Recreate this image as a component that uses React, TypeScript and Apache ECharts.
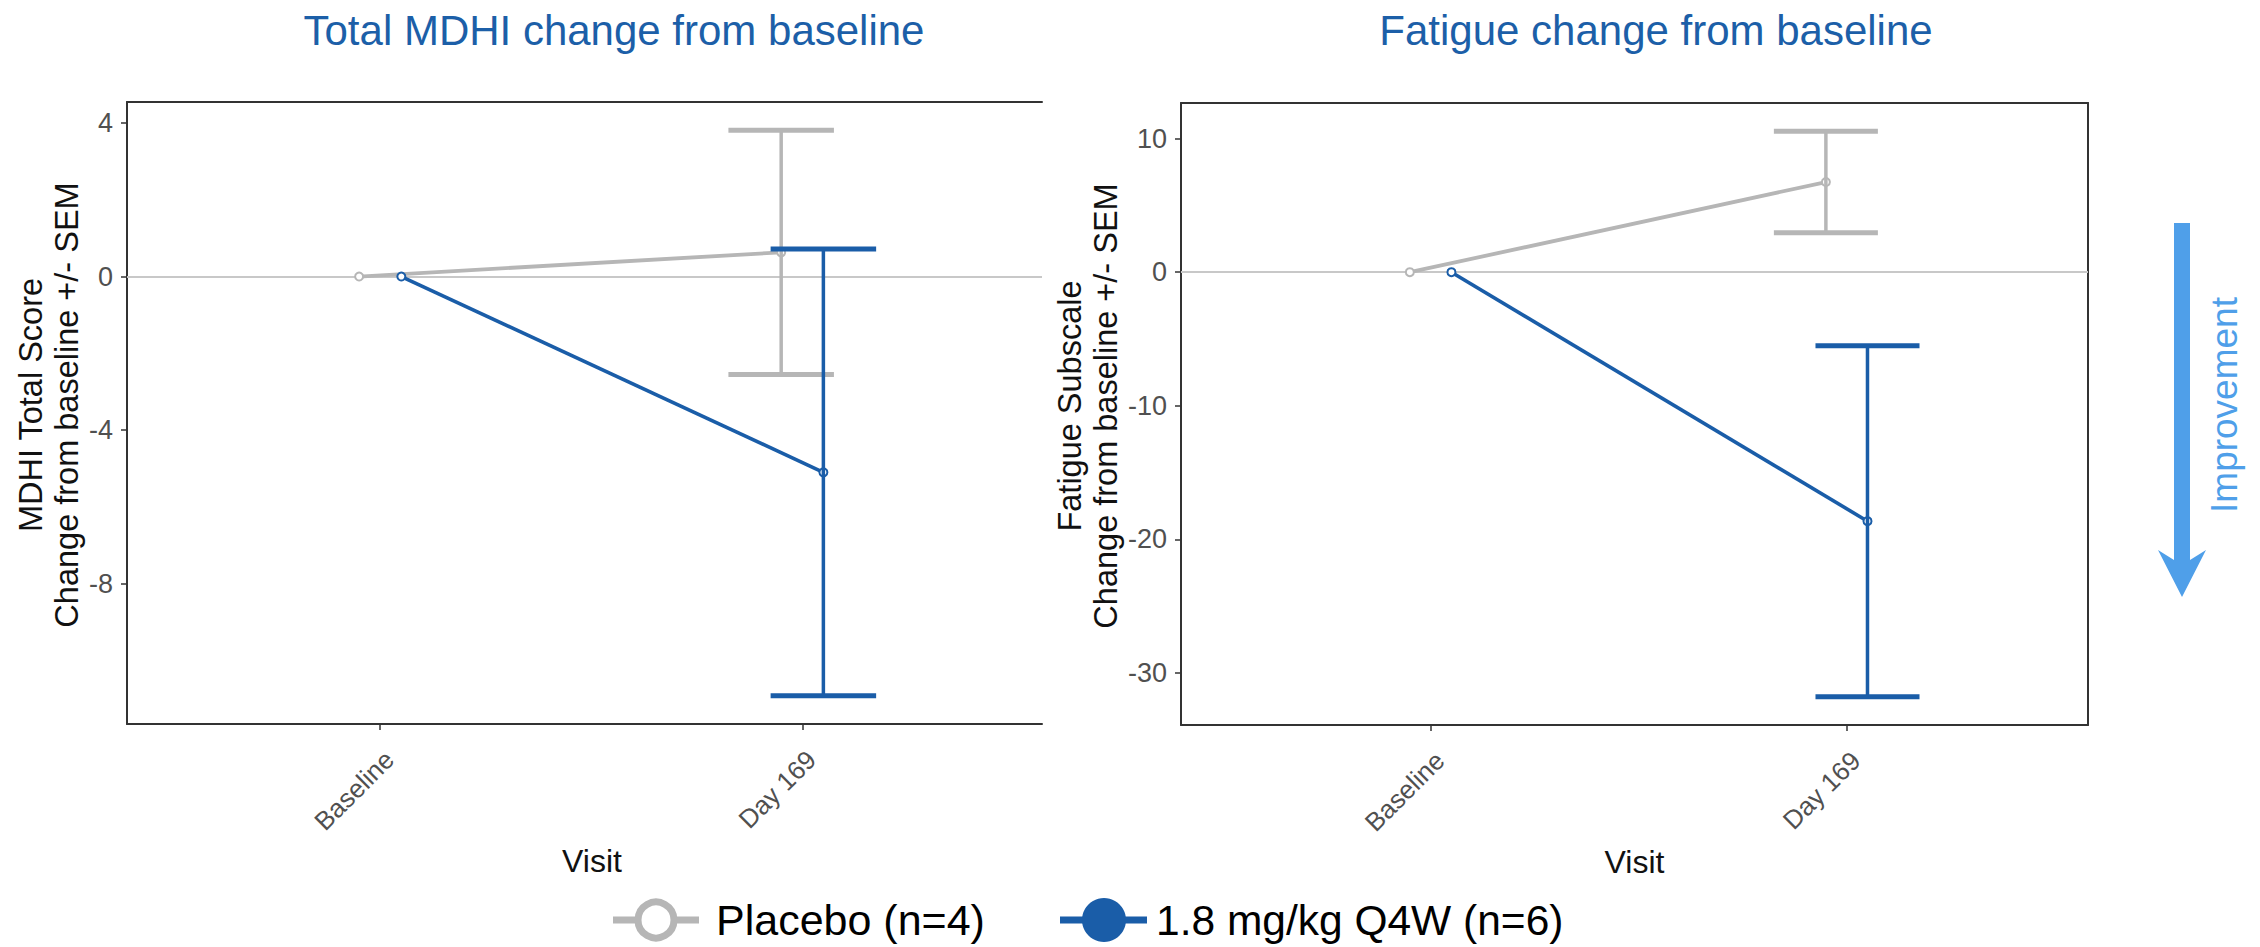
import React, { useEffect, useRef } from 'react';
import * as echarts from 'echarts';

// ---------- data ----------
const visits = ['Baseline', 'Day 169'];
const groupNames = ['Placebo (n=4)', '1.8 mg/kg Q4W (n=6)'];

// Total MDHI change from baseline
const mdhiPlaceboMean = [0, 0.63];
const mdhiPlaceboSem: (number | null)[] = [null, 3.18];
const mdhiActiveMean = [0, -5.1];
const mdhiActiveSem: (number | null)[] = [null, 5.82];
const mdhiTicks = [-8, -4, 0, 4];

// Fatigue change from baseline
const fatPlaceboMean = [0, 6.75];
const fatPlaceboSem: (number | null)[] = [null, 3.8];
const fatActiveMean = [0, -18.64];
const fatActiveSem: (number | null)[] = [null, 13.14];
const fatTicks = [-30, -20, -10, 0, 10];

const panelTitles = ['Total MDHI change from baseline', 'Fatigue change from baseline'];
const yTitles = [
  'MDHI Total Score\nChange from baseline +/- SEM',
  'Fatigue Subscale\nChange from baseline +/- SEM',
];

// ---------- style ----------
const FONT = '"Liberation Sans", Arial, Helvetica, sans-serif';
const GRAY = '#b6b6b6';
const BLUE = '#1a5da8';
const TITLE_BLUE = '#1c5fa8';
const ARROW_BLUE = '#4f9fe9';
const AXIS = '#333333';
const TICK_TEXT = '#505050';
const DODGE = 0.05;
const CAP = 0.125;

function points(means: number[], off: number) {
  return means.map((m, i) => [i + 1 + off, m]);
}
function errs(means: number[], sems: (number | null)[], off: number) {
  const out: number[][] = [];
  means.forEach((m, i) => {
    const s = sems[i];
    if (s != null) out.push([i + 1 + off, m - s, m + s]);
  });
  return out;
}
function expandRange(means: number[][], sems: (number | null)[][]) {
  const vals: number[] = [];
  means.forEach((arr, k) =>
    arr.forEach((m, i) => {
      const s = sems[k][i];
      vals.push(m);
      if (s != null) {
        vals.push(m - s, m + s);
      }
    })
  );
  const lo = Math.min(...vals);
  const hi = Math.max(...vals);
  const r = hi - lo;
  return [lo - 0.05 * r, hi + 0.05 * r];
}

const errRender = (color: string) => (params: any, api: any) => {
  const x = api.value(0);
  const lo = api.value(1);
  const hi = api.value(2);
  const pLo = api.coord([x, lo]);
  const pHi = api.coord([x, hi]);
  const l = api.coord([x - CAP, lo])[0];
  const r = api.coord([x + CAP, lo])[0];
  return {
    type: 'group',
    children: [
      { type: 'line', shape: { x1: pLo[0], y1: pLo[1], x2: pHi[0], y2: pHi[1] }, style: { stroke: color, lineWidth: 3.5 } },
      { type: 'line', shape: { x1: l, y1: pHi[1], x2: r, y2: pHi[1] }, style: { stroke: color, lineWidth: 5 } },
      { type: 'line', shape: { x1: l, y1: pLo[1], x2: r, y2: pLo[1] }, style: { stroke: color, lineWidth: 5 } },
    ],
  };
};

export default function App() {
  const ref = useRef<HTMLDivElement>(null);
  useEffect(() => {
    document.body.style.margin = '0';
    if (!ref.current) return;
    const chart = echarts.init(ref.current, undefined, { renderer: 'svg' });

    const mdhiRange = expandRange([mdhiPlaceboMean, mdhiActiveMean], [mdhiPlaceboSem, mdhiActiveSem]);
    const fatRange = expandRange([fatPlaceboMean, fatActiveMean], [fatPlaceboSem, fatActiveSem]);

    const xBottom = (gridIndex: number, max: number) => ({
      type: 'value',
      gridIndex,
      position: 'bottom',
      min: 0.4,
      max,
      splitLine: { show: false },
      axisLine: { show: true, onZero: false, lineStyle: { color: AXIS, width: 2 } },
      axisTick: { show: true, customValues: [1, 2], length: 6, lineStyle: { color: AXIS, width: 1.5 } },
      axisLabel: {
        show: true,
        customValues: [1, 2],
        formatter: (v: number) => visits[Math.round(v) - 1],
        rotate: 45,
        align: 'right',
        verticalAlign: 'top',
        margin: 22,
        fontSize: 26,
        color: TICK_TEXT,
        fontFamily: FONT,
      },
      name: 'Visit',
      nameLocation: 'middle',
      nameGap: 121,
      nameTextStyle: { fontSize: 32, color: '#111', fontFamily: FONT, padding: gridIndex === 0 ? [0, 0, 0, 15] : 0 },
    });
    const xTop = (gridIndex: number, max: number) => ({
      type: 'value',
      gridIndex,
      position: 'top',
      min: 0.4,
      max,
      splitLine: { show: false },
      axisLine: { show: true, onZero: false, lineStyle: { color: AXIS, width: 2 } },
      axisTick: { show: false },
      axisLabel: { show: false },
    });
    const yLeft = (gridIndex: number, range: number[], ticks: number[], title: string, gap: number) => ({
      type: 'value',
      gridIndex,
      position: 'left',
      min: range[0],
      max: range[1],
      splitLine: { show: false },
      axisLine: { show: true, onZero: false, lineStyle: { color: AXIS, width: 2 } },
      axisTick: { show: true, customValues: ticks, length: 6, lineStyle: { color: AXIS, width: 1.5 } },
      axisLabel: { show: true, customValues: ticks, margin: 14, fontSize: 27, color: TICK_TEXT, fontFamily: FONT },
      name: title,
      nameLocation: 'middle',
      nameRotate: 90,
      nameGap: gap,
      nameTextStyle: { fontSize: 32.5, lineHeight: 36, color: '#111', fontFamily: FONT, align: 'center', padding: [0, 0, 0, 16] },
    });

    const lineSeries = (name: string, data: number[][], color: string, width: number, xi: number, yi: number, withZero: boolean) => ({
      type: 'line',
      name,
      xAxisIndex: xi,
      yAxisIndex: yi,
      data,
      z: 3,
      symbol: 'emptyCircle',
      symbolSize: 8,
      lineStyle: { color, width },
      itemStyle: { color, borderColor: color, borderWidth: 1.5 },
      markLine: withZero
        ? {
            silent: true,
            symbol: 'none',
            label: { show: false },
            lineStyle: { color: '#c8c8c8', width: 2, type: 'solid' },
            data: [{ yAxis: 0 }],
            z: 1,
          }
        : undefined,
    });
    const errSeries = (name: string, data: number[][], color: string, xi: number, yi: number, z: number) => ({
      type: 'custom',
      name,
      xAxisIndex: xi,
      yAxisIndex: yi,
      data,
      z,
      encode: { x: 0, y: [1, 2] },
      renderItem: errRender(color),
    });

    const lx = 127, rx = 1181, gy = 102, gh = 622;
    const legendY = 920;

    const option: any = {
      animation: false,
      backgroundColor: '#ffffff',
      textStyle: { fontFamily: FONT },
      grid: [
        { left: lx, top: gy, width: 915, height: gh },
        { left: rx, top: gy + 1, width: 907, height: gh },
      ],
      xAxis: [xBottom(0, 2.568), xTop(0, 2.568), xBottom(1, 2.58), xTop(1, 2.58)],
      yAxis: [
        yLeft(0, mdhiRange, mdhiTicks, yTitles[0], 36),
        yLeft(1, fatRange, fatTicks, yTitles[1], 50),
        {
          type: 'value',
          gridIndex: 1,
          position: 'right',
          min: fatRange[0],
          max: fatRange[1],
          splitLine: { show: false },
          axisLine: { show: true, onZero: false, lineStyle: { color: AXIS, width: 2 } },
          axisTick: { show: false },
          axisLabel: { show: false },
        },
      ],
      series: [
        lineSeries(groupNames[0], points(mdhiPlaceboMean, -DODGE), GRAY, 3.8, 0, 0, true),
        lineSeries(groupNames[1], points(mdhiActiveMean, DODGE), BLUE, 3.6, 0, 0, false),
        errSeries(groupNames[0], errs(mdhiPlaceboMean, mdhiPlaceboSem, -DODGE), GRAY, 0, 0, 4),
        errSeries(groupNames[1], errs(mdhiActiveMean, mdhiActiveSem, DODGE), BLUE, 0, 0, 5),
        lineSeries(groupNames[0], points(fatPlaceboMean, -DODGE), GRAY, 3.8, 2, 1, true),
        lineSeries(groupNames[1], points(fatActiveMean, DODGE), BLUE, 3.6, 2, 1, false),
        errSeries(groupNames[0], errs(fatPlaceboMean, fatPlaceboSem, -DODGE), GRAY, 2, 1, 4),
        errSeries(groupNames[1], errs(fatActiveMean, fatActiveSem, DODGE), BLUE, 2, 1, 5),
      ],
      graphic: [
        {
          type: 'text',
          x: 614,
          y: 30,
          style: { text: panelTitles[0], font: `42px ${FONT}`, fill: TITLE_BLUE, textAlign: 'center', textVerticalAlign: 'middle' },
        },
        {
          type: 'text',
          x: 1656,
          y: 30,
          style: { text: panelTitles[1], font: `42px ${FONT}`, fill: TITLE_BLUE, textAlign: 'center', textVerticalAlign: 'middle' },
        },
        // legend
        { type: 'line', shape: { x1: 613, y1: legendY, x2: 699, y2: legendY }, style: { stroke: GRAY, lineWidth: 7 } },
        { type: 'circle', shape: { cx: 656, cy: legendY, r: 18 }, style: { fill: '#ffffff', stroke: GRAY, lineWidth: 7 } },
        {
          type: 'text',
          x: 716,
          y: legendY,
          style: { text: groupNames[0], font: `43px ${FONT}`, fill: '#000', textAlign: 'left', textVerticalAlign: 'middle' },
        },
        { type: 'line', shape: { x1: 1060, y1: legendY, x2: 1147, y2: legendY }, style: { stroke: BLUE, lineWidth: 7 } },
        { type: 'circle', shape: { cx: 1104, cy: legendY, r: 22 }, style: { fill: BLUE } },
        {
          type: 'text',
          x: 1156,
          y: legendY,
          style: { text: groupNames[1], font: `42.5px ${FONT}`, fill: '#000', textAlign: 'left', textVerticalAlign: 'middle' },
        },
        // improvement arrow
        {
          type: 'polygon',
          shape: {
            points: [
              [2174, 223],
              [2190, 223],
              [2190, 560],
              [2206, 550],
              [2182, 597],
              [2158, 550],
              [2174, 560],
            ],
          },
          style: { fill: ARROW_BLUE },
        },
        {
          type: 'text',
          x: 2224,
          y: 405,
          rotation: Math.PI / 2,
          style: { text: 'Improvement', font: `37px ${FONT}`, fill: ARROW_BLUE, textAlign: 'center', textVerticalAlign: 'middle' },
        },
      ],
    };
    chart.setOption(option);
    return () => chart.dispose();
  }, []);
  return <div ref={ref} style={{ width: 2260, height: 947 }} />;
}
